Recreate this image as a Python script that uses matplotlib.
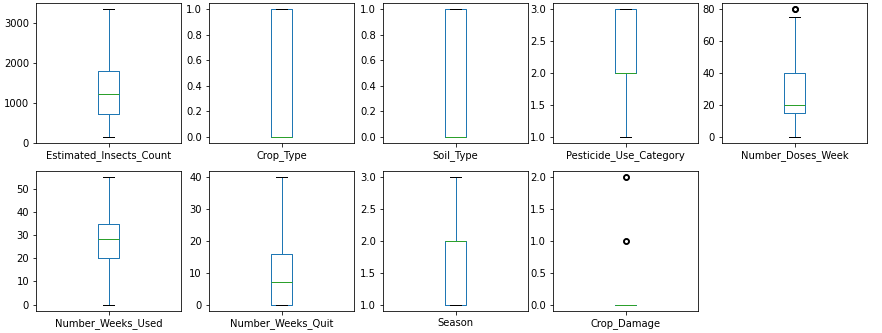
import matplotlib
matplotlib.use("Agg")
import matplotlib.pyplot as plt

columns = ["Estimated_Insects_Count", "Crop_Type", "Soil_Type", "Pesticide_Use_Category",
           "Number_Doses_Week", "Number_Weeks_Used", "Number_Weeks_Quit", "Season", "Crop_Damage"]
whislo = [150, 0, 0, 1, 0, 0, 0, 1, 0]
q1 = [725, 0, 0, 2, 15, 20, 0, 1, 0]
med = [1217, 0, 0, 2, 20, 28.5, 7, 2, 0]
q3 = [1800, 1, 1, 3, 40, 35, 16, 2, 0]
whishi = [3340, 1, 1, 3, 75, 55, 40, 3, 0]
fliers = [[], [], [], [], [80, 80, 80], [], [], [], [1, 1, 2, 2]]

fig = plt.figure(figsize=(882 / 72, 333 / 72), dpi=72)
W, H = 882, 333
lefts = [36, 209, 383, 553, 722]
aw, ah = 145, 140
tops = [3, 171]

for i, name in enumerate(columns):
    r, c = divmod(i, 5)
    left = lefts[c]
    top = tops[r]
    ax = fig.add_axes([left / W, 1 - (top + ah) / H, aw / W, ah / H])
    stats = [dict(label=name, whislo=whislo[i], q1=q1[i], med=med[i], q3=q3[i],
                  whishi=whishi[i], fliers=fliers[i])]
    ax.bxp(stats, positions=[1],
           boxprops=dict(color="C0"), whiskerprops=dict(color="C0"),
           medianprops=dict(color="C2"), capprops=dict(color="k"),
           flierprops=dict(marker="o", markeredgecolor="k", markerfacecolor="none",
                           markersize=5, markeredgewidth=1.6))
    ax.set_xlim(0.5, 1.5)
    ax.tick_params(labelsize=10)

fig.savefig("out.png", dpi=72)
